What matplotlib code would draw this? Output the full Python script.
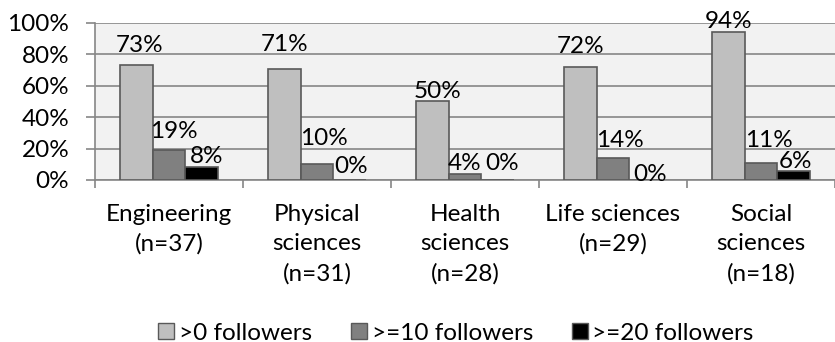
import numpy as np
import matplotlib
matplotlib.use('Agg')
import matplotlib.pyplot as plt
from matplotlib.patches import Patch

plt.rcParams['font.family'] = ['Lato', 'DejaVu Sans']

categories = ['Engineering\n(n=37)', 'Physical\nsciences\n(n=31)', 'Health\nsciences\n(n=28)',
              'Life sciences\n(n=29)', 'Social\nsciences\n(n=18)']
series_names = ['>0 followers', '>=10 followers', '>=20 followers']
gt0 = [73, 71, 50, 72, 94]
ge10 = [19, 10, 4, 14, 11]
ge20 = [8, 0, 0, 0, 6]

colors = ['#bfbfbf', '#808080', '#000000']
edge = '#595959'
grid = '#868686'
fs = 17.5

# label nudges (pixels), per series, per category - hand placed like in the original
label_dx = [[3, 0, 5, 0, 0], [5, 7, 0, 7, 8], [5, 1, 4, 4, 2]]
label_dy = [[13, 18, 3, 14, 4], [12, 19, 4, 11, 16], [4, 7, 10, -1, 3]]

fig = plt.figure(figsize=(8.35, 3.42), dpi=100)
ax = fig.add_axes([95 / 835, 1 - 180 / 342, 1 - 95 / 835, (180 - 23) / 342])
ax.set_facecolor('#f2f2f2')

x = np.arange(len(categories))
w = 0.221
for k, vals in enumerate([gt0, ge10, ge20]):
    pos = x + (k - 1) * w
    ax.bar(pos, vals, w, color=colors[k], edgecolor=edge, linewidth=1.2, zorder=3)
    for i, v in enumerate(vals):
        ax.annotate(f'{v}%', (pos[i], v), xytext=(label_dx[k][i], label_dy[k][i]),
                    textcoords='offset pixels', ha='center', va='baseline',
                    fontsize=fs, color='black', zorder=4)

ax.set_ylim(0, 100)
ax.set_xlim(-0.5, -0.5 + 740 / 149.25)
ax.set_yticks(range(0, 101, 20))
ax.set_yticklabels([f'{t}%' for t in range(0, 101, 20)], fontsize=fs)
ax.yaxis.grid(True, color=grid, linewidth=1.2, zorder=0)
ax.set_axisbelow(True)

ax.set_xticks(x)
ax.set_xticklabels(categories, fontsize=fs, linespacing=1.5)
ax.set_xticks(np.arange(len(categories) + 1) - 0.5, minor=True)
ax.tick_params(axis='x', which='major', length=0, pad=17)
ax.tick_params(axis='x', which='minor', length=6, color=grid, width=1.2)
ax.tick_params(axis='y', length=6.5, color=grid, width=1.2, pad=12)

for s in ['top', 'right']:
    ax.spines[s].set_visible(False)
for s in ['left', 'bottom']:
    ax.spines[s].set_color(grid)
    ax.spines[s].set_linewidth(1.2)

handles = [Patch(facecolor=colors[k], edgecolor=edge, linewidth=1.0) for k in range(3)]
fig.legend(handles, series_names, loc='center', bbox_to_anchor=(456 / 835, 1 - 333 / 342), ncol=3,
           frameon=False, fontsize=fs, handlelength=0.65, handleheight=0.65,
           handletextpad=0.2, columnspacing=1.6)

fig.savefig('out.png', dpi=100)
